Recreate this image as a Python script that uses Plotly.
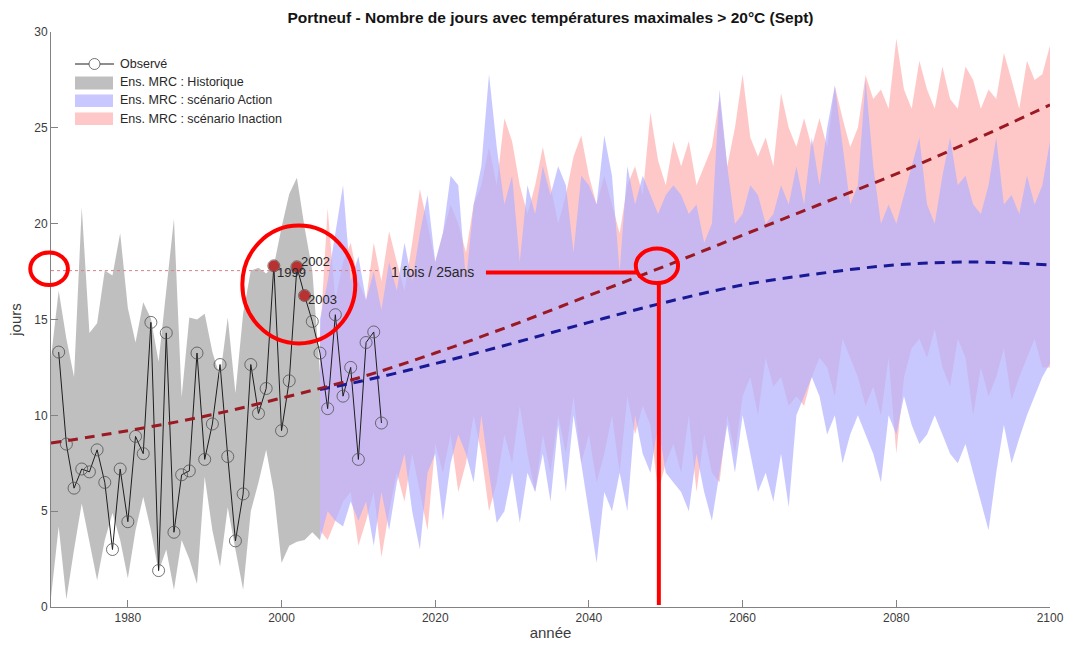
import plotly.graph_objects as go

# ---------------- data ----------------
obs_years = list(range(1971, 2014))
obs_values = [13.3, 8.5, 6.2, 7.2, 7.05, 8.2, 6.5, 3.0, 7.2, 4.45,
              8.9, 8.0, 14.85, 1.9, 14.3, 3.9, 6.9, 7.1, 13.25, 7.7,
              9.55, 12.65, 7.85, 3.45, 5.9, 12.65, 10.1, 11.4, 17.8, 9.2,
              11.8, 17.75, 16.25, 14.9, 13.25, 10.35, 15.25, 11.0, 12.5, 7.7,
              13.8, 14.35, 9.6]
highlight_years = [1999, 2002, 2003]

hist_years = list(range(1970, 2006))
hist_upper = [13.0, 16.5, 14.0, 12.0, 20.85, 14.3, 14.8, 17.55, 17.3, 19.5,
              15.6, 13.8, 15.9, 15.05, 12.8, 16.4, 20.25, 10.95, 15.1, 15.0,
              15.3, 13.3, 12.0, 15.1, 11.15, 15.3, 17.55, 17.7, 17.4, 17.8,
              19.8, 21.55, 22.4, 19.8, 17.55, 12.2]
hist_lower = [0.5, 4.2, 0.4, 3.0, 5.4, 3.5, 1.4, 3.5, 4.9, 3.5,
              1.5, 4.0, 5.75, 4.0, 1.85, 3.0, 0.9, 3.5, 2.5, 1.2,
              6.8, 4.0, 2.1, 5.2, 3.0, 0.9, 5.0, 6.5, 8.2, 6.0,
              2.3, 3.2, 3.4, 3.5, 3.9, 3.5]

scen_years = list(range(2005, 2101))
action_upper = [15, 17, 19.5, 22, 17, 18.3, 16, 17.5, 15.5, 18,
                16.5, 19, 17, 19.5, 21.5, 18, 19.5, 22.5, 22, 17,
                21, 23, 27.8, 24, 21, 22.5, 18, 22, 20.5, 23,
                21.5, 23, 22, 18.5, 22.5, 22, 21, 24.6, 22.5, 17.5,
                23, 21, 22.5, 21.5, 20.5, 21.5, 22, 21.5, 20.5, 21,
                19, 20, 27, 23, 20, 20.5, 22, 21.5, 20, 20.5,
                22, 21, 23, 21, 24.5, 22, 25, 27.2, 24, 21,
                22, 27.5, 23, 20, 21, 20, 21.5, 23, 24.5, 21,
                20, 22.5, 24.5, 22, 22.5, 21, 20.5, 22, 24.5, 21,
                21.5, 20.5, 22.5, 21, 22, 24.3]
action_lower = [3.5, 5, 4.5, 4.2, 5.5, 4.5, 5.5, 3.2, 6, 4,
                6.5, 8, 5, 3.0, 7, 8, 4.5, 7.5, 9, 8,
                6.5, 10, 7, 4.4, 5, 7, 4.4, 7, 6, 8,
                5.5, 9.5, 6, 10, 7.5, 5, 2.3, 6, 5, 7,
                5, 10, 8, 7, 9.5, 7, 6.5, 6, 5, 8,
                6, 4.5, 7, 9.5, 7, 10, 8, 6, 7, 5.5,
                8, 5.2, 10, 11, 12, 11, 9, 10, 7.5, 9,
                10, 9, 8, 6.5, 10, 9, 11, 9.5, 8.5, 9,
                10, 9, 8, 7.5, 8.5, 7, 5.5, 4.0, 7, 9.5,
                7.5, 8.8, 10, 11, 12, 12.7]
inaction_upper = [14, 20.8, 16, 18, 19, 17, 16, 19, 17, 19.6,
                  18, 16.5, 19, 21.8, 20, 18, 19.5, 21, 20, 18.5,
                  21, 22, 24, 22, 25.5, 24.3, 22, 20.5, 22, 24,
                  22, 20, 21.5, 23.5, 24.6, 22.5, 21, 22.5, 21, 19.5,
                  22, 23, 21.5, 25.8, 23.3, 22, 24.3, 23, 24.3, 22,
                  23, 24, 26.6, 23, 25, 27.8, 24.5, 23.5, 24.5, 23,
                  26.8, 25, 24, 25.5, 24, 25.5, 24, 27.2, 25.5, 24,
                  25, 27.75, 26.5, 27, 26, 29.65, 27, 26, 28.5, 27,
                  26, 28.2, 26.5, 26, 28.2, 27.5, 26, 27, 26.5, 28.9,
                  27.5, 26, 28.5, 27.5, 27.8, 29.3]
inaction_lower = [4, 3.5, 4.5, 5.5, 6, 3.2, 4.5, 6, 2.6, 5,
                  7, 5.5, 8, 6, 4, 8.5, 7, 9, 6, 7.5,
                  10, 8, 5, 6.5, 9, 7.5, 10.5, 8, 6, 9,
                  7, 10, 8, 11, 7.5, 9, 6.5, 8, 10, 7,
                  11, 9, 10.5, 9.5, 6, 7.5, 8.5, 7, 10, 6,
                  9, 7, 6.5, 10, 8, 11, 12, 10, 13, 11.5,
                  12, 10.5, 11, 10.5, 12, 13, 12.5, 11, 14, 13,
                  12, 10.5, 11.5, 10, 13, 8, 12, 13.5, 14, 13,
                  14.5, 12.5, 11.5, 14, 13, 10, 12.5, 11, 12, 13.5,
                  10.8, 12, 13, 14, 12.5, 12.5]

trend_inaction_years = [1970, 1980, 1990, 2000, 2010, 2020, 2030, 2040, 2050, 2060, 2070, 2080, 2090, 2100]
trend_inaction = [8.55, 9.2, 9.95, 10.9, 11.95, 13.25, 14.7, 16.25, 17.8, 19.4, 21.0, 22.6, 24.35, 26.2]
trend_action_years = [2005, 2010, 2020, 2030, 2040, 2050, 2060, 2070, 2080, 2090, 2100]
trend_action = [11.35, 11.75, 12.7, 13.75, 14.85, 15.9, 16.8, 17.4, 17.85, 18.0, 17.85]

threshold = 17.55
threshold_label = "1 fois / 25ans"

x_ticks = [1980, 2000, 2020, 2040, 2060, 2080, 2100]
y_ticks = [0, 5, 10, 15, 20, 25, 30]

# ---------------- styles ----------------
FONT = "Liberation Sans, Arial, sans-serif"
GRAY_FILL = "rgba(128,128,128,0.5)"
BLUE_FILL = "rgba(176,176,255,0.7)"
RED_FILL = "rgba(255,176,176,0.7)"
RED_TREND = "rgb(155,25,35)"
BLUE_TREND = "rgb(25,25,150)"
ANNOT_RED = "#ff0000"
TEXT = "rgb(40,40,40)"

X0, X1 = 1970, 2100
Y0, Y1 = 0, 30
L, R, T, B = 51, 15, 32, 47
W, H = 1065, 654
PW, PH = W - L - R, H - T - B


def px(xp):
    return (xp - L) / PW


def py(yp):
    return (H - B - yp) / PH


def xp(year):
    return (year - X0) / (X1 - X0)


def yp(val):
    return (val - Y0) / (Y1 - Y0)


fig = go.Figure()

# ensemble bands
fig.add_trace(go.Scatter(x=hist_years + hist_years[::-1], y=hist_upper + hist_lower[::-1],
                         fill="toself", fillcolor=GRAY_FILL, line=dict(width=0),
                         mode="lines", hoverinfo="skip", showlegend=False))
fig.add_trace(go.Scatter(x=scen_years + scen_years[::-1], y=inaction_upper + inaction_lower[::-1],
                         fill="toself", fillcolor=RED_FILL, line=dict(width=0),
                         mode="lines", hoverinfo="skip", showlegend=False))
fig.add_trace(go.Scatter(x=scen_years + scen_years[::-1], y=action_upper + action_lower[::-1],
                         fill="toself", fillcolor=BLUE_FILL, line=dict(width=0),
                         mode="lines", hoverinfo="skip", showlegend=False))

# threshold dotted line
thr_end = 2012.7
fig.add_trace(go.Scatter(x=[X0, thr_end], y=[threshold, threshold], mode="lines",
                         line=dict(color="rgb(215,130,140)", width=1, dash="dot"),
                         hoverinfo="skip", showlegend=False))

# observed
fig.add_trace(go.Scatter(x=obs_years, y=obs_values, mode="lines+markers",
                         line=dict(color="rgb(30,30,30)", width=1),
                         marker=dict(symbol="circle-open", size=12, color="rgb(80,80,80)",
                                     line=dict(width=0.8)),
                         showlegend=False))

# trend lines
fig.add_trace(go.Scatter(x=trend_action_years, y=trend_action, mode="lines", line_shape="spline",
                         line=dict(color=BLUE_TREND, width=3, dash="10px,7px"),
                         hoverinfo="skip", showlegend=False))
fig.add_trace(go.Scatter(x=trend_inaction_years, y=trend_inaction, mode="lines", line_shape="spline",
                         line=dict(color=RED_TREND, width=3, dash="10px,7px"),
                         hoverinfo="skip", showlegend=False))

# highlighted extreme years
hl_vals = [obs_values[obs_years.index(yr)] for yr in highlight_years]
fig.add_trace(go.Scatter(x=highlight_years, y=hl_vals, mode="markers",
                         marker=dict(size=11, color="rgb(185,50,50)"),
                         showlegend=False))

annotations = []
label_offsets = {1999: (1, -7), 2002: (2, 5), 2003: (1, -4)}
for yr, v in zip(highlight_years, hl_vals):
    dx, dy = label_offsets[yr]
    annotations.append(dict(x=yr, y=v, xref="x", yref="y", text=str(yr), showarrow=False,
                            xanchor="left", yanchor="middle", xshift=dx, yshift=dy,
                            font=dict(family=FONT, size=13, color=TEXT)))
annotations.append(dict(x=2014.0, y=threshold, xref="x", yref="y", text=threshold_label,
                        showarrow=False, xanchor="left", yanchor="middle", yshift=-1,
                        font=dict(family=FONT, size=14, color=TEXT)))

shapes = []
# manual legend
leg_items = [("Ens. MRC : Historique", GRAY_FILL, 76.5, 89.5, 82.5),
             ("Ens. MRC : scénario Action", BLUE_FILL, 94.5, 107, 100.5),
             ("Ens. MRC : scénario Inaction", RED_FILL, 112.5, 125, 118.5)]
shapes.append(dict(type="line", xref="paper", yref="paper", x0=px(75), x1=px(114),
                   y0=py(64), y1=py(64), line=dict(color="rgb(30,30,30)", width=1)))
shapes.append(dict(type="circle", xref="paper", yref="paper", x0=px(89), x1=px(100),
                   y0=py(69.5), y1=py(58.5), line=dict(color="rgb(80,80,80)", width=0.8),
                   fillcolor="white"))
annotations.append(dict(x=px(118), y=py(64), xref="paper", yref="paper", text="Observé",
                        showarrow=False, xanchor="left", yanchor="middle",
                        font=dict(family=FONT, size=12.5, color=TEXT)))
for label, col, ytop, ybot, ytxt in leg_items:
    shapes.append(dict(type="rect", xref="paper", yref="paper", x0=px(75), x1=px(113),
                       y0=py(ybot), y1=py(ytop), fillcolor=col, line=dict(width=0)))
    annotations.append(dict(x=px(118), y=py(ytxt), xref="paper", yref="paper", text=label,
                            showarrow=False, xanchor="left", yanchor="middle",
                            font=dict(family=FONT, size=12.5, color=TEXT)))

# red hand annotations (paper coords so they may leave the plot area)
red_line = dict(color=ANNOT_RED, width=4)
shapes += [
    dict(type="circle", xref="paper", yref="paper", x0=xp(1967.3), x1=xp(1972.2),
         y0=yp(16.8), y1=yp(18.5), line=red_line),
    dict(type="circle", xref="paper", yref="paper", x0=xp(1994.9), x1=xp(2009.6),
         y0=yp(13.75), y1=yp(19.9), line=red_line),
    dict(type="circle", xref="paper", yref="paper", x0=xp(2046.1), x1=xp(2051.6),
         y0=yp(16.9), y1=yp(18.7), line=red_line),
    dict(type="line", xref="paper", yref="paper", x0=xp(2026.6), x1=xp(2046.4),
         y0=yp(17.45), y1=yp(17.45), line=red_line),
    dict(type="line", xref="paper", yref="paper", x0=xp(2049.1), x1=xp(2049.1),
         y0=yp(16.9), y1=yp(0.1), line=red_line),
]

axis_common = dict(showline=True, linecolor="rgb(130,130,130)", linewidth=1,
                   ticks="inside", ticklen=7, tickcolor="rgb(130,130,130)", tickwidth=1,
                   showgrid=False, zeroline=False, mirror=False, automargin=False,
                   tickfont=dict(family=FONT, size=12, color="rgb(60,60,60)"))

fig.update_layout(
    width=W, height=H,
    margin=dict(l=L, r=R, t=T, b=B, autoexpand=False),
    paper_bgcolor="white", plot_bgcolor="white",
    title=dict(text="<b>Portneuf - Nombre de jours avec températures maximales > 20°C (Sept)</b>",
               x=(L + PW / 2) / W, xanchor="center", y=1 - 18 / H, yanchor="middle",
               font=dict(family=FONT, size=15.5, color="rgb(20,20,20)")),
    xaxis=dict(range=[X0, X1], tickvals=x_ticks,
               title=dict(text="année", standoff=3,
                          font=dict(family=FONT, size=15, color="rgb(60,60,60)")),
               **axis_common),
    yaxis=dict(range=[Y0, Y1], tickvals=y_ticks,
               title=dict(text="jours", standoff=8,
                          font=dict(family=FONT, size=15, color="rgb(60,60,60)")),
               **axis_common),
    showlegend=False,
    shapes=shapes,
    annotations=annotations,
)

fig.write_html("out.html", config={"displayModeBar": False},
               post_script="document.body.style.margin='0';document.body.style.overflow='hidden';")
